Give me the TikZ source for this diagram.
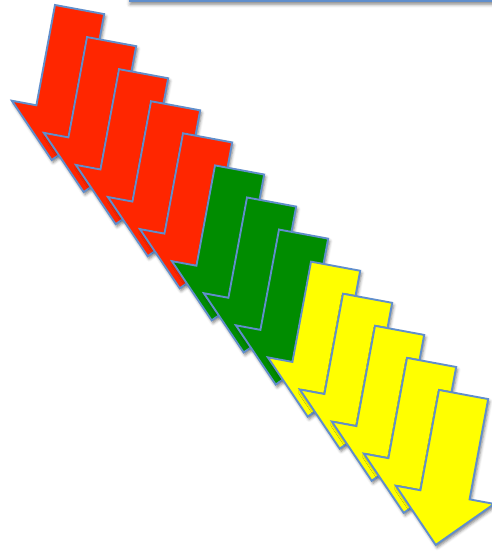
\documentclass[tikz,border=0pt]{standalone}
\usetikzlibrary{shadows.blur}
\definecolor{arrred}{RGB}{255,38,0}
\definecolor{arrgreen}{RGB}{0,140,0}
\definecolor{arryellow}{RGB}{255,255,0}
\definecolor{edgeblue}{RGB}{96,142,204}
\tikzset{
  bigarrow/.style={draw=edgeblue, line width=1.9pt, line join=miter,
    blur shadow={shadow xshift=1.5pt, shadow yshift=-2.5pt, shadow blur radius=3pt, shadow opacity=50}},
  topbar/.style={draw=edgeblue, line width=2.4pt, fill=white,
    blur shadow={shadow xshift=0pt, shadow yshift=-3pt, shadow blur radius=3.5pt, shadow opacity=50}}
}
\newcommand{\downarr}[3]{%
  \begin{scope}[shift={(#1,#2)}, rotate=-10.5]
    \path[bigarrow, fill=#3] (0,0) -- (50,0) -- (50,-102) -- (75,-102) -- (25,-153) -- (-25,-102) -- (0,-102) -- cycle;
  \end{scope}}
\begin{document}
\begin{tikzpicture}[x=1pt, y=1pt]
  \useasboundingbox (0,0) rectangle (492,552);
  \path[topbar] (130,556) -- (130,550.8) -- (500,550.8) -- (500,560);
  \foreach \k in {0,...,4} {\downarr{55+32*\k}{547-32.08*\k}{arrred}}
  \foreach \k in {5,...,7} {\downarr{55+32*\k}{547-32.08*\k}{arrgreen}}
  \foreach \k in {8,...,12} {\downarr{55+32*\k}{547-32.08*\k}{arryellow}}
\end{tikzpicture}
\end{document}
